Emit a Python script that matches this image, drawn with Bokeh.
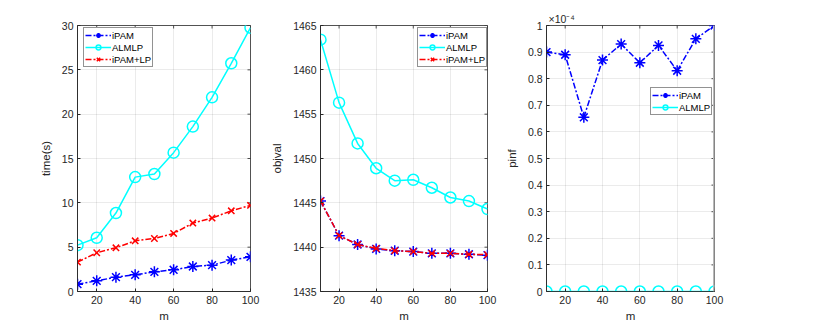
import math
from bokeh.plotting import figure
from bokeh.layouts import row
from bokeh.models import (FixedTicker, Legend, LegendItem, Span,
                          CustomJSTickFormatter, Range1d)
from bokeh.embed import file_html
from bokeh.resources import INLINE

# ---------------- data ----------------
m = [10, 20, 30, 40, 50, 60, 70, 80, 90, 100]
x_ticks = [20, 40, 60, 80, 100]

time_ipam = [0.83, 1.2, 1.62, 1.88, 2.22, 2.45, 2.82, 2.97, 3.54, 3.91]
time_almlp = [5.23, 6.06, 8.85, 12.9, 13.25, 15.66, 18.6, 21.9, 25.74, 29.75]
time_ipamlp = [3.31, 4.37, 4.93, 5.72, 5.98, 6.55, 7.72, 8.28, 9.1, 9.71]
time_ticks = [0, 5, 10, 15, 20, 25, 30]

obj_almlp = [1463.4, 1456.3, 1451.7, 1448.9, 1447.5, 1447.6, 1446.7, 1445.6, 1445.2, 1444.3]
obj_ipam = [1445.2, 1441.3, 1440.3, 1439.8, 1439.6, 1439.5, 1439.3, 1439.3, 1439.2, 1439.1]
obj_ipamlp = [1445.2, 1441.3, 1440.3, 1439.85, 1439.6, 1439.5, 1439.3, 1439.3, 1439.2, 1439.15]
obj_ticks = [1435, 1440, 1445, 1450, 1455, 1460, 1465]

# pinf in units of 1e-4
pinf_ipam = [0.90, 0.89, 0.655, 0.87, 0.93, 0.86, 0.925, 0.83, 0.95, 1.0]
pinf_almlp = [0, 0, 0, 0, 0, 0, 0, 0, 0, 0]
pinf_ticks = [0, 0.1, 0.2, 0.3, 0.4, 0.5, 0.6, 0.7, 0.8, 0.9, 1.0]
pinf_scale_label = "\u00d710\u207b\u2074"

# ---------------- style ----------------
FONT = "Liberation Sans"
AX = "#262626"
BLUE = "#0000ff"
CYAN = "#00ffff"
RED = "#ff0000"
DASHDOT = "6 2 2 2"
H = 327


def style_axis(ax):
    ax.axis_line_color = AX
    ax.axis_line_width = 0.8
    ax.major_tick_line_color = AX
    ax.major_tick_in = 3
    ax.major_tick_out = 0
    ax.minor_tick_line_color = None
    ax.major_label_text_font = FONT
    ax.major_label_text_color = AX
    ax.major_label_text_font_size = "10.5px"
    ax.major_label_standoff = 4
    ax.axis_label_text_font = FONT
    ax.axis_label_text_font_style = "normal"
    ax.axis_label_text_color = AX
    ax.axis_label_text_font_size = "11.5px"


def make_fig(width, left, right, yr, yticks, ylabel, yfmt=None):
    p = figure(width=width, height=H, x_range=Range1d(10, 100), y_range=Range1d(*yr),
               output_backend="svg", toolbar_location=None,
               min_border_left=left, min_border_right=right,
               min_border_top=25, min_border_bottom=36)
    p.outline_line_color = AX
    p.outline_line_width = 0.8
    xt = FixedTicker(ticks=x_ticks)
    yt = FixedTicker(ticks=yticks)
    p.xaxis.ticker = xt
    p.yaxis.ticker = yt
    p.xgrid.ticker = xt
    p.ygrid.ticker = yt
    for g in (p.xgrid, p.ygrid):
        g.grid_line_color = AX
        g.grid_line_alpha = 0.12
        g.grid_line_width = 0.8
    style_axis(p.xaxis[0])
    style_axis(p.yaxis[0])
    p.xaxis.axis_label = "m"
    p.xaxis.axis_label_standoff = 3
    p.yaxis.axis_label = ylabel
    p.yaxis.axis_label_standoff = 7
    if yfmt is not None:
        p.yaxis.formatter = yfmt
    # mirrored inward ticks on top and right (half of each dash is clipped by the frame)
    p.scatter(x_ticks, [yr[1]] * len(x_ticks), marker="dash", angle=math.pi / 2,
              size=6, line_color=AX, line_width=0.8)
    p.scatter([100] * len(yticks), yticks, marker="dash",
              size=6, line_color=AX, line_width=0.8)
    return p


def add_series(p, y, color, marker, dash, size, lw_marker):
    ln = p.line(m, y, line_color=color, line_width=1.5, line_dash=dash)
    mk = p.scatter(m, y, marker=marker, size=size, line_color=color,
                   fill_color=None, line_width=lw_marker)
    return [ln, mk]


def make_legend(p, items, loc):
    lg = Legend(items=[LegendItem(label=l, renderers=r) for l, r in items],
                location=loc, label_text_font=FONT, label_text_font_size="9.5px",
                label_text_color="#000000", label_height=12, glyph_height=12,
                glyph_width=26, label_standoff=1, spacing=0, padding=1,
                border_line_color=AX, border_line_width=0.8,
                background_fill_alpha=1.0, margin=0)
    p.add_layout(lg)


# ---------------- plot 1: time ----------------
p1 = make_fig(268, 77, 18, (0, 30), time_ticks, "time(s)")
r1a = add_series(p1, time_ipam, BLUE, "asterisk", DASHDOT, 11, 1.5)
r1b = add_series(p1, time_almlp, CYAN, "circle", "solid", 11, 1.5)
r1c = add_series(p1, time_ipamlp, RED, "x", DASHDOT, 9, 1.5)
make_legend(p1, [("iPAM", r1a), ("ALMLP", r1b), ("iPAM+LP", r1c)], (6, 224))

# ---------------- plot 2: objval ----------------
p2 = make_fig(234, 44, 15, (1435, 1465), obj_ticks, "objval")
r2a = add_series(p2, obj_ipam, BLUE, "asterisk", DASHDOT, 11, 1.5)
r2b = add_series(p2, obj_almlp, CYAN, "circle", "solid", 11, 1.5)
r2c = add_series(p2, obj_ipamlp, RED, "x", DASHDOT, 9, 1.5)
make_legend(p2, [("iPAM", r2a), ("ALMLP", r2b), ("iPAM+LP", r2c)], (97, 224))

# ---------------- plot 3: pinf ----------------
fmt = CustomJSTickFormatter(code="return String(Number(tick.toFixed(1)));")
p3 = make_fig(315, 37, 103, (0, 1), pinf_ticks, "pinf", yfmt=fmt)
p3.add_layout(Span(location=100, dimension="height", line_color="#b8b8b8", line_width=3))
r3a = add_series(p3, pinf_ipam, BLUE, "asterisk", DASHDOT, 11, 1.5)
r3b = add_series(p3, pinf_almlp, CYAN, "circle", "solid", 11, 1.5)
make_legend(p3, [("iPAM", r3a), ("ALMLP", r3b)], (104, 176))
p3.title.text = pinf_scale_label
p3.title.align = "left"
p3.title.offset = 2
p3.title.standoff = 1
p3.title.text_font = FONT
p3.title.text_font_size = "10.5px"
p3.title.text_font_style = "normal"
p3.title.text_color = AX

layout = row(p1, p2, p3)
open("out.html", "w").write(file_html(layout, INLINE))
